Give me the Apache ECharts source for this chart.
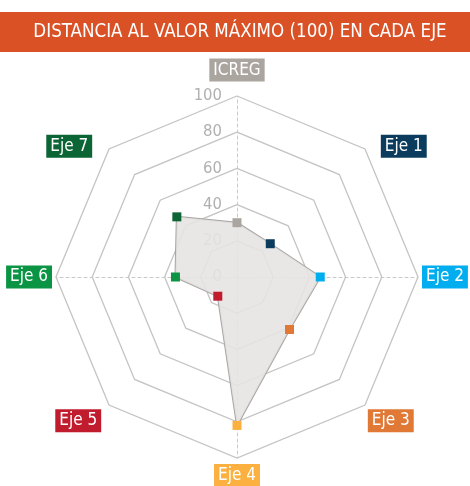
<!DOCTYPE html>
<html><head><meta charset="utf-8">
<script src="https://cdn.jsdelivr.net/npm/echarts@6/dist/echarts.min.js"></script>
<style>html,body{margin:0;padding:0;background:#fff}#c{width:470px;height:486px}</style>
</head><body><div id="c"></div>
<script>
// ---- data ----
const titleText = 'DISTANCIA AL VALOR MÁXIMO (100) EN CADA EJE';
const axesNames = ['ICREG', 'Eje 1', 'Eje 2', 'Eje 3', 'Eje 4', 'Eje 5', 'Eje 6', 'Eje 7'];
const values = [30, 26, 46, 41, 82, 15, 34, 47];
const axisMax = 100;
const tickStep = 20;

// ---- styles ----
const FONT = '"Liberation Sans Narrow", "DejaVu Sans Condensed", "Roboto Condensed", sans-serif';
const axisColors = ['#aba5a0', '#0b3c5d', '#00aeef', '#e07836', '#fbb040', '#c11b2e', '#0a9444', '#0b6535'];
// spacer tweaks per label: [hLeft, hRight, vTop, vBottom]
const spacers = [[0,0,0,8],[13,0,0,0],[0,0,0,0],[0,0,26,0],[0,0,4,0],[0,5,26,0],[0,0,0,0],[0,14,0,0]];

const n = axesNames.length;
// radar draws counter-clockwise; reorder so that axes go clockwise
const order = [0];
for (let k = n - 1; k >= 1; k--) order.push(k);

const rich = {};
axesNames.forEach((nm, k) => {
  rich['b' + k] = {color: '#fff', backgroundColor: axisColors[k], fontFamily: FONT, fontSize: 17, lineHeight: 19, padding: [3, 4, 3, 4]};
  const s = spacers[k];
  rich['l' + k] = {width: s[0], fontSize: 1, lineHeight: 1};
  rich['r' + k] = {width: s[1], fontSize: 1, lineHeight: 1};
  rich['t' + k] = {height: s[2], lineHeight: s[2], fontSize: 1};
  rich['d' + k] = {height: s[3], lineHeight: s[3], fontSize: 1};
});

const indicators = order.map(k => {
  const ind = {name: axesNames[k], max: axisMax, min: 0};
  if (k === 0) ind.axisLabel = {show: true};
  if (k % 2 === 0) ind.axisLine = {show: true};
  return ind;
});

const chart = echarts.init(document.getElementById('c'), null, {renderer: 'canvas'});
const CX = 237, CY = 277, R = 181;
chart.setOption({
  animation: false,
  graphic: [
    {type: 'rect', shape: {x: 0, y: 12, width: 470, height: 40}, style: {fill: '#da5126'}, z: 10},
    {type: 'text', x: 240, y: 32, z: 11, style: {text: titleText, fill: '#fff', font: '18.6px ' + FONT, textAlign: 'center', textVerticalAlign: 'middle'}}
  ],
  radar: {
    center: [CX, CY], radius: R, startAngle: 90, shape: 'polygon', splitNumber: axisMax / tickStep,
    indicator: indicators,
    axisNameGap: 4,
    axisName: {
      formatter: function (name) {
        const k = axesNames.indexOf(name);
        const s = spacers[k];
        let line = (s[0] ? '{l' + k + '| }' : '') + '{b' + k + '|' + name + '}' + (s[1] ? '{r' + k + '| }' : '');
        if (s[2]) line = '{t' + k + '| }\n' + line;
        if (s[3]) line = line + '\n{d' + k + '| }';
        return line;
      },
      rich: rich
    },
    axisLine: {show: false, lineStyle: {color: '#c9c9c9', type: [3, 3], width: 1}},
    axisTick: {show: false},
    axisLabel: {show: false, color: '#b0b0b0', fontFamily: FONT, fontSize: 16.5, margin: 15, showMinLabel: true, showMaxLabel: true},
    splitLine: {lineStyle: {color: '#c6c4c3', width: 1.3}},
    splitArea: {show: false}
  },
  polar: {center: [CX, CY], radius: R},
  angleAxis: {type: 'value', min: 0, max: 360, startAngle: 90, clockwise: true, show: false},
  radiusAxis: {type: 'value', min: 0, max: axisMax, show: false},
  series: [
    {
      type: 'radar', symbol: 'none', z: 2,
      lineStyle: {color: '#aaa5a2', width: 2},
      areaStyle: {color: '#e6e4e3', opacity: 0.9},
      data: [{value: order.map(k => values[k])}]
    },
    {
      type: 'scatter', coordinateSystem: 'polar', symbol: 'rect', symbolSize: 9, z: 5,
      data: values.map((v, k) => ({value: [v, k * 360 / n], itemStyle: {color: axisColors[k], opacity: 1}}))
    }
  ]
});
</script></body></html>
